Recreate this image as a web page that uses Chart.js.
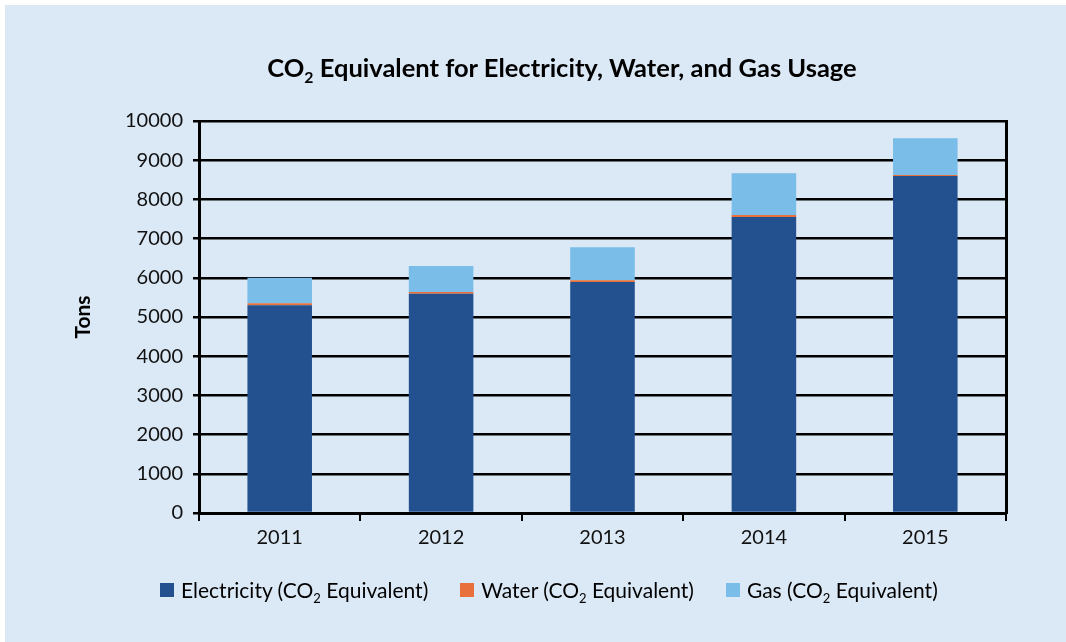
<!DOCTYPE html>
<html>
<head>
<meta charset="utf-8">
<script src="https://cdn.jsdelivr.net/npm/chart.js@4/dist/chart.umd.min.js"></script>
<style>
    html, body { margin: 0; padding: 0; background: #fff; }
    body { width: 1066px; height: 642px; position: relative; overflow: hidden; font-family: Lato, "Noto Sans", sans-serif; }
    .panel { position: absolute; left: 5px; top: 5px; width: 1061px; height: 637px; background: #dbe8f5; }
    #chart { position: absolute; left: 0; top: 0; }
    .title { position: absolute; left: 0; top: 47px; width: 1114px; text-align: center; font-weight: bold; font-size: 25.5px; color: #000; }
    .legend { position: absolute; left: 155px; top: 572px; display: flex; gap: 32px; font-size: 21px; color: #000; }
    .legend-item { display: flex; align-items: center; white-space: pre; }
    .swatch { width: 14px; height: 14px; margin-right: 7px; }
    sub { font-size: 0.62em; vertical-align: -0.35em; line-height: 0; }
</style>
</head>
<body>
<div class="panel">
    <canvas id="chart" width="1061" height="637"></canvas>
    <div class="title">CO<sub>2</sub> Equivalent for Electricity, Water, and Gas Usage</div>
    <div class="legend" id="legend"></div>
</div>
<script>
// Data
const years = ['2011', '2012', '2013', '2014', '2015'];
const electricity = [5300, 5590, 5890, 7550, 8600];
const water = [50, 50, 50, 50, 25];
const gas = [650, 660, 840, 1070, 935];
const seriesNames = ['Electricity', 'Water', 'Gas'];
const seriesColors = ['#23518f', '#e8703a', '#7abde8'];

const tickFont = { family: 'Lato, "Noto Sans", sans-serif', size: 20 };

const datasets = [electricity, water, gas].map((values, i) => ({
    label: seriesNames[i] + ' (CO₂ Equivalent)',
    data: values,
    backgroundColor: seriesColors[i],
    borderWidth: 0,
    barPercentage: 0.4,
    categoryPercentage: 1.0
}));

const chart = new Chart(document.getElementById('chart'), {
    type: 'bar',
    data: { labels: years, datasets },
    options: {
        responsive: false,
        animation: false,
        layout: { padding: { top: 116, left: 66, right: 60, bottom: 89 } },
        plugins: {
            legend: { display: false },
            title: { display: false },
            tooltip: { enabled: false }
        },
        scales: {
            x: {
                stacked: true,
                grid: { drawOnChartArea: false, drawTicks: true, tickLength: 8, color: '#000', lineWidth: 2, offset: true },
                border: { color: '#000', width: 3 },
                ticks: { font: tickFont, color: '#111', padding: 5 },
                afterFit: (s) => { s.height = 40; }
            },
            y: {
                stacked: true,
                min: 0,
                max: 10000,
                ticks: { stepSize: 1000, font: tickFont, color: '#111', padding: 10, callback: (v) => String(v) },
                grid: { color: '#000', lineWidth: 2.5, tickLength: 6 },
                border: { color: '#000', width: 3 },
                title: { display: true, text: 'Tons', color: '#000', font: { family: 'Lato, "Noto Sans", sans-serif', size: 21, weight: 'bold' }, padding: 0 },
                afterFit: (s) => { s.width = 128; }
            },
            y2: {
                position: 'right',
                min: 0,
                max: 10000,
                grid: { drawOnChartArea: false, drawTicks: false },
                ticks: { display: false },
                border: { color: '#000', width: 3 },
                afterFit: (s) => { s.width = 0; }
            }
        }
    }
});

// HTML legend so the subscript can be real text
const legendEl = document.getElementById('legend');
chart.data.datasets.forEach((ds, i) => {
    const item = document.createElement('div');
    item.className = 'legend-item';
    item.innerHTML = `<span class="swatch" style="background:${ds.backgroundColor}"></span><span>${seriesNames[i]} (CO<sub>2</sub> Equivalent)</span>`;
    legendEl.appendChild(item);
});
</script>
</body>
</html>
